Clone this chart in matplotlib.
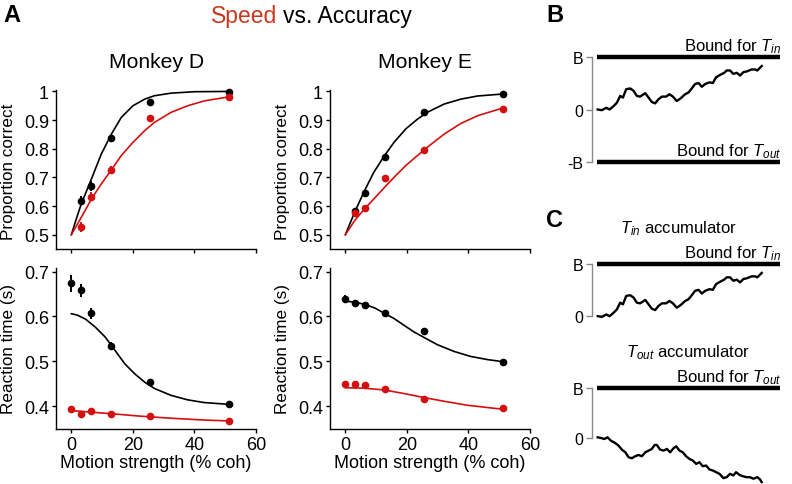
import matplotlib
matplotlib.use("Agg")
import matplotlib.pyplot as plt

plt.rcParams['font.family'] = ['Liberation Sans', 'DejaVu Sans']
plt.rcParams['mathtext.fontset'] = 'custom'
plt.rcParams['mathtext.rm'] = 'Liberation Sans'
plt.rcParams['mathtext.it'] = 'Liberation Sans:italic'

RED = '#d40f0f'
TITLE_RED = '#c8381c'

# motion strength (% coh)
coh = [0, 3.2, 6.4, 12.8, 25.6, 51.2]
coh_pc = [3.2, 6.4, 12.8, 25.6, 51.2]

# Monkey D - proportion correct (accuracy = black, speed = red)
d_pc_acc = [0.619, 0.669, 0.837, 0.964, 0.999]
d_pc_acc_err = [0.017, 0.018, 0.012, 0.006, 0.003]
d_pc_spd = [0.526, 0.633, 0.726, 0.909, 0.981]
d_pc_spd_err = [0.017, 0.015, 0.012, 0.010, 0.004]
# Monkey D - reaction time
d_rt_acc = [0.674, 0.658, 0.607, 0.535, 0.453, 0.404]
d_rt_acc_err = [0.019, 0.015, 0.012, 0.007, 0.003, 0.003]
d_rt_spd = [0.394, 0.383, 0.389, 0.383, 0.378, 0.367]
d_rt_spd_err = [0.003, 0.003, 0.003, 0.003, 0.002, 0.002]

# Monkey E - proportion correct
e_pc_acc = [0.581, 0.644, 0.772, 0.929, 0.991]
e_pc_acc_err = [0.012, 0.012, 0.010, 0.005, 0.003]
e_pc_spd = [0.576, 0.592, 0.698, 0.797, 0.938]
e_pc_spd_err = [0.012, 0.012, 0.012, 0.010, 0.004]
# Monkey E - reaction time
e_rt_acc = [0.639, 0.630, 0.626, 0.607, 0.567, 0.499]
e_rt_acc_err = [0.008, 0.007, 0.006, 0.004, 0.003, 0.003]
e_rt_spd = [0.449, 0.449, 0.447, 0.439, 0.415, 0.395]
e_rt_spd_err = [0.003, 0.003, 0.003, 0.003, 0.003, 0.002]

# model fits
d_fit_pc_x = [0, 1.6, 3.2, 6.5, 9.7, 13.0, 16.2, 20.0, 23.8, 27.0, 32.4, 40.0, 51.2]
d_fit_pc_acc = [0.5, 0.555, 0.607, 0.694, 0.781, 0.851, 0.909, 0.950, 0.973, 0.985, 0.994, 0.999, 1.0]
d_fit_pc_x2 = [0, 3.2, 6.5, 9.7, 13.0, 16.2, 20.0, 23.8, 27.0, 32.4, 37.8, 43.2, 51.2]
d_fit_pc_spd = [0.5, 0.560, 0.624, 0.677, 0.726, 0.776, 0.822, 0.863, 0.892, 0.927, 0.950, 0.967, 0.981]
d_fit_rt_x = [0, 1.9, 4.6, 7.8, 11.0, 14.2, 17.4, 20.6, 23.9, 27.1, 32.4, 37.8, 43.1, 51.1]
d_fit_rt_acc = [0.606, 0.603, 0.594, 0.576, 0.554, 0.524, 0.494, 0.472, 0.453, 0.439, 0.424, 0.414, 0.408, 0.404]
d_fit_rt_x2 = [0, 5.7, 13.2, 21.7, 32.4, 43.1, 51.1]
d_fit_rt_spd = [0.390, 0.387, 0.383, 0.378, 0.373, 0.369, 0.367]

e_fit_pc_x = [0, 3.0, 6.2, 9.2, 12.7, 15.8, 19.6, 23.4, 26.6, 32.1, 37.5, 42.9, 51.1]
e_fit_pc_acc = [0.5, 0.578, 0.653, 0.717, 0.776, 0.822, 0.869, 0.903, 0.927, 0.956, 0.973, 0.984, 0.991]
e_fit_pc_spd = [0.5, 0.549, 0.590, 0.624, 0.665, 0.700, 0.741, 0.776, 0.805, 0.851, 0.888, 0.915, 0.942]
e_fit_rt_x = [0, 3.0, 6.2, 9.5, 12.7, 15.9, 19.1, 22.4, 25.6, 29.9, 35.3, 40.6, 46.0, 51.2]
e_fit_rt_acc = [0.634, 0.632, 0.627, 0.619, 0.607, 0.595, 0.580, 0.565, 0.553, 0.537, 0.522, 0.511, 0.504, 0.499]
e_fit_rt_x2 = [0, 6.2, 12.7, 19.1, 25.6, 32.0, 39.6, 51.2]
e_fit_rt_spd = [0.441, 0.440, 0.436, 0.428, 0.419, 0.411, 0.402, 0.393]

# example accumulator traces (time normalised to bound length)
tin_t = [0.004, 0.027, 0.051, 0.069, 0.091, 0.109, 0.127, 0.142, 0.160, 0.182, 0.200, 0.218,
         0.236, 0.264, 0.282, 0.300, 0.318, 0.336, 0.355, 0.378, 0.396, 0.415, 0.436, 0.455,
         0.482, 0.500, 0.518, 0.536, 0.555, 0.573, 0.591, 0.615, 0.633, 0.651, 0.673, 0.695,
         0.709, 0.727, 0.745, 0.764, 0.782, 0.800, 0.818, 0.845, 0.864, 0.876, 0.891, 0.900]
tin_v = [0.0, -0.013, 0.032, 0.0, 0.065, 0.129, 0.258, 0.226, 0.387, 0.400, 0.355, 0.258,
         0.245, 0.310, 0.226, 0.142, 0.116, 0.194, 0.245, 0.245, 0.290, 0.245, 0.161, 0.206,
         0.290, 0.323, 0.400, 0.484, 0.503, 0.432, 0.484, 0.516, 0.503, 0.613, 0.658, 0.697,
         0.742, 0.742, 0.677, 0.697, 0.645, 0.710, 0.723, 0.761, 0.761, 0.742, 0.794, 0.826]
tout_t = [0.004, 0.022, 0.040, 0.058, 0.076, 0.100, 0.118, 0.136, 0.155, 0.173, 0.191, 0.209,
          0.227, 0.245, 0.264, 0.282, 0.300, 0.315, 0.327, 0.345, 0.364, 0.382, 0.400, 0.418,
          0.433, 0.451, 0.469, 0.487, 0.505, 0.524, 0.542, 0.560, 0.578, 0.596, 0.615, 0.633,
          0.651, 0.669, 0.691, 0.709, 0.727, 0.745, 0.760, 0.778, 0.796, 0.815, 0.836, 0.855,
          0.876, 0.891, 0.900]
tout_v = [0.020, 0.007, -0.013, 0.020, -0.046, -0.092, -0.144, -0.222, -0.275, -0.373, -0.392, -0.353,
          -0.327, -0.353, -0.275, -0.242, -0.209, -0.131, -0.131, -0.222, -0.242, -0.209, -0.275, -0.196,
          -0.157, -0.242, -0.275, -0.353, -0.405, -0.438, -0.503, -0.471, -0.549, -0.536, -0.614, -0.634,
          -0.667, -0.699, -0.784, -0.765, -0.699, -0.732, -0.667, -0.719, -0.745, -0.765, -0.765, -0.797,
          -0.765, -0.810, -0.863]

W, H = 792, 485
fig = plt.figure(figsize=(W / 100, H / 100), dpi=100)


def px_axes(left, top, right, bottom):
    return fig.add_axes([left / W, 1 - bottom / H, (right - left) / W, (bottom - top) / H])


def style_a(ax):
    for s in ['top', 'right']:
        ax.spines[s].set_visible(False)
    for s in ['left', 'bottom']:
        ax.spines[s].set_linewidth(1.0)
    ax.tick_params(direction='out', length=3, width=1, labelsize=13, pad=2)
    ax.set_xlim(-5, 60)
    ax.set_xticks([0, 20, 40, 60])


def points(ax, x, y, err, color):
    ax.errorbar(x, y, yerr=err, fmt='o', color=color, ms=4.5, elinewidth=1.4,
                capsize=0, clip_on=False, zorder=3)


def draw_pc(ax, fx, facc, fx2, fspd, acc, acc_err, spd, spd_err):
    ax.plot(fx, facc, color='black', lw=1.2)
    ax.plot(fx2, fspd, color=RED, lw=1.2)
    points(ax, coh_pc, acc, acc_err, 'black')
    points(ax, coh_pc, spd, spd_err, RED)
    style_a(ax)
    ax.set_xticklabels([])
    ax.set_ylim(0.45, 1.005)
    ax.set_yticks([0.5, 0.6, 0.7, 0.8, 0.9, 1.0])
    ax.set_yticklabels(['0.5', '0.6', '0.7', '0.8', '0.9', '1'])
    ax.set_ylabel('Proportion correct', fontsize=12.3)
    ax.yaxis.set_label_coords(-0.2, 0.49)


def draw_rt(ax, fx, facc, fx2, fspd, acc, acc_err, spd, spd_err):
    ax.plot(fx, facc, color='black', lw=1.2)
    ax.plot(fx2, fspd, color=RED, lw=1.2)
    points(ax, coh, acc, acc_err, 'black')
    points(ax, coh, spd, spd_err, RED)
    style_a(ax)
    ax.set_ylim(0.349, 0.708)
    ax.set_yticks([0.4, 0.5, 0.6, 0.7])
    ax.set_ylabel('Reaction time (s)', fontsize=12.3)
    ax.yaxis.set_label_coords(-0.2, 0.5)
    ax.set_xlabel('Motion strength (% coh)', fontsize=13, labelpad=1)


# Panel A
ax_dpc = px_axes(56, 91, 256, 250)
draw_pc(ax_dpc, d_fit_pc_x, d_fit_pc_acc, d_fit_pc_x2, d_fit_pc_spd,
        d_pc_acc, d_pc_acc_err, d_pc_spd, d_pc_spd_err)
ax_drt = px_axes(56, 269, 256, 430)
draw_rt(ax_drt, d_fit_rt_x, d_fit_rt_acc, d_fit_rt_x2, d_fit_rt_spd,
        d_rt_acc, d_rt_acc_err, d_rt_spd, d_rt_spd_err)
ax_epc = px_axes(330, 91, 530, 250)
draw_pc(ax_epc, e_fit_pc_x, e_fit_pc_acc, e_fit_pc_x, e_fit_pc_spd,
        e_pc_acc, e_pc_acc_err, e_pc_spd, e_pc_spd_err)
ax_ert = px_axes(330, 269, 530, 430)
draw_rt(ax_ert, e_fit_rt_x, e_fit_rt_acc, e_fit_rt_x2, e_fit_rt_spd,
        e_rt_acc, e_rt_acc_err, e_rt_spd, e_rt_spd_err)

fig.text(157 / W, 1 - 62 / H, 'Monkey D', ha='center', va='center', fontsize=15.2)
fig.text(425 / W, 1 - 62 / H, 'Monkey E', ha='center', va='center', fontsize=15.2)
fig.text(277 / W, 1 - 16 / H, 'Speed', ha='right', va='center', fontsize=16.5, color=TITLE_RED)
fig.text(283 / W, 1 - 16 / H, 'vs. Accuracy', ha='left', va='center', fontsize=16.5)

fig.text(3 / W, 1 - 15 / H, 'A', ha='left', va='center', fontsize=17, fontweight='bold')
fig.text(546 / W, 1 - 15 / H, 'B', ha='left', va='center', fontsize=17, fontweight='bold')
fig.text(546 / W, 1 - 221 / H, 'C', ha='left', va='center', fontsize=17, fontweight='bold')


def style_acc(ax, lo, hi):
    for s in ['top', 'right', 'bottom']:
        ax.spines[s].set_visible(False)
    ax.spines['left'].set_color('#888888')
    ax.spines['left'].set_linewidth(1.0)
    ax.spines['left'].set_bounds(lo, hi)
    ax.set_xticks([])
    ax.tick_params(axis='y', direction='out', length=4, width=1, color='#888888', labelsize=11.5, pad=2)
    ax.set_xlim(-0.027, 1.0)


# Panel B
ax_b = px_axes(592, 50, 780, 171)
ax_b.plot([0, 1], [1, 1], color='black', lw=3.2, solid_capstyle='butt')
ax_b.plot([0, 1], [-1, -1], color='black', lw=3.2, solid_capstyle='butt')
ax_b.plot(tin_t, tin_v, color='black', lw=1.7)
style_acc(ax_b, -1, 1)
ax_b.set_ylim(-1.15, 1.15)
ax_b.set_yticks([-1, 0, 1])
ax_b.set_yticklabels(['-B', '0', 'B'])
ax_b.text(1.01, 1.125, r'Bound for $T_{in}$', ha='right', va='baseline', fontsize=12, clip_on=False)
ax_b.text(1.01, -0.875, r'Bound for $T_{out}$', ha='right', va='baseline', fontsize=12, clip_on=False)

# Panel C, T_in accumulator
ax_c1 = px_axes(592, 257, 780, 325)
ax_c1.plot([0, 1], [1, 1], color='black', lw=3.2, solid_capstyle='butt')
ax_c1.plot(tin_t, tin_v, color='black', lw=1.7)
style_acc(ax_c1, 0, 1)
ax_c1.set_ylim(-0.15, 1.15)
ax_c1.set_yticks([0, 1])
ax_c1.set_yticklabels(['0', 'B'])
ax_c1.text(1.01, 1.13, r'Bound for $T_{in}$', ha='right', va='baseline', fontsize=12, clip_on=False)
fig.text(678 / W, 1 - 233 / H, r'$T_{in}$ accumulator', ha='center', va='baseline', fontsize=12)

# Panel C, T_out accumulator
ax_c2 = px_axes(592, 381, 780, 485)
ax_c2.plot([0, 1], [1, 1], color='black', lw=3.2, solid_capstyle='butt')
ax_c2.plot(tout_t, tout_v, color='black', lw=1.7)
style_acc(ax_c2, 0, 1)
ax_c2.set_ylim(-0.9, 1.15)
ax_c2.set_yticks([0, 1])
ax_c2.set_yticklabels(['0', 'B'])
ax_c2.text(1.01, 1.12, r'Bound for $T_{out}$', ha='right', va='baseline', fontsize=12, clip_on=False)
fig.text(688 / W, 1 - 357 / H, r'$T_{out}$ accumulator', ha='center', va='baseline', fontsize=12)

fig.savefig('out.png', dpi=100)
